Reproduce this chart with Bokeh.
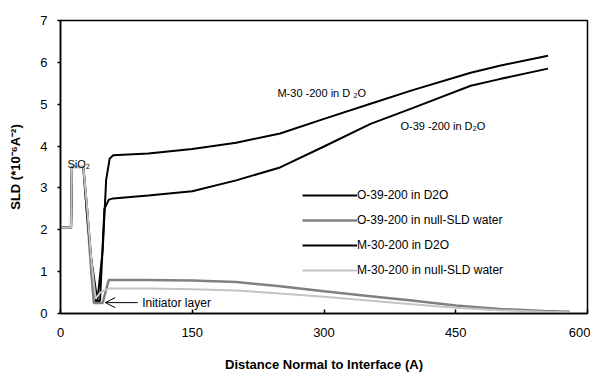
from bokeh.plotting import figure
from bokeh.models import Range1d, Legend, LegendItem, Label, Arrow, OpenHead, FixedTicker
from bokeh.embed import file_html
from bokeh.resources import INLINE

# ---- data ----
o39_d2o_x = [0, 12, 13, 26, 30, 35, 40, 45, 50, 55, 60, 100, 150, 200, 250, 300, 353, 400, 467, 500, 555]
o39_d2o_y = [2.05, 2.05, 3.5, 3.5, 2.6, 1.3, 0.3, 0.3, 2.5, 2.72, 2.75, 2.82, 2.92, 3.18, 3.49, 3.99, 4.53, 4.9, 5.44, 5.6, 5.85]

m30_d2o_x = [0, 12, 13, 26, 30, 35, 42, 48, 52, 56, 60, 100, 150, 200, 250, 300, 353, 400, 467, 500, 555]
m30_d2o_y = [2.05, 2.05, 3.5, 3.5, 2.4, 1.3, 0.3, 1.5, 3.2, 3.7, 3.78, 3.82, 3.93, 4.08, 4.3, 4.65, 5.01, 5.33, 5.75, 5.92, 6.16]

o39_null_x = [0, 12, 13, 26, 30, 35, 38, 48, 51, 55, 100, 150, 200, 250, 300, 350, 400, 450, 500, 550, 580]
o39_null_y = [2.05, 2.05, 3.5, 3.5, 2.5, 1.0, 0.25, 0.25, 0.5, 0.8, 0.8, 0.79, 0.75, 0.65, 0.53, 0.42, 0.31, 0.19, 0.11, 0.06, 0.04]

m30_null_x = [0, 12, 13, 26, 30, 35, 40, 45, 50, 55, 100, 150, 200, 250, 300, 350, 400, 450, 500, 550, 580]
m30_null_y = [2.05, 2.05, 3.5, 3.5, 2.6, 1.3, 0.35, 0.5, 0.55, 0.6, 0.6, 0.58, 0.55, 0.48, 0.4, 0.31, 0.22, 0.14, 0.08, 0.04, 0.03]

x_ticks = [0, 150, 300, 450, 600]
y_ticks = [0, 1, 2, 3, 4, 5, 6, 7]

FONT = "Liberation Sans"

p = figure(width=590, height=374, output_backend="svg", toolbar_location=None,
           x_range=Range1d(0, 600), y_range=Range1d(0, 7),
           min_border_left=60, min_border_right=3, min_border_top=20, min_border_bottom=61)
p.grid.visible = False
p.outline_line_color = "black"
p.outline_line_width = 1.5

# lines
r1 = p.line(o39_d2o_x, o39_d2o_y, line_color="black", line_width=2)
r2 = p.line(o39_null_x, o39_null_y, line_color="#808080", line_width=2.5)
r3 = p.line(m30_d2o_x, m30_d2o_y, line_color="black", line_width=2)
r4 = p.line(m30_null_x, m30_null_y, line_color="#c4c4c4", line_width=2)

# axes
p.xaxis.ticker = FixedTicker(ticks=x_ticks)
p.yaxis.ticker = FixedTicker(ticks=y_ticks)
for ax in (p.xaxis[0], p.yaxis[0]):
    ax.axis_line_color = "black"
    ax.axis_line_width = 1.5
    ax.major_tick_line_color = "black"
    ax.major_tick_line_width = 1.5
    ax.minor_tick_line_color = None
    ax.major_label_text_font = FONT
    ax.major_label_text_font_size = "13px"
    ax.major_label_text_color = "black"
    ax.axis_label_text_font = FONT
    ax.axis_label_text_font_size = "13px"
    ax.axis_label_text_font_style = "bold"
    ax.axis_label_text_color = "black"

p.xaxis.major_tick_in = 4
p.xaxis.major_tick_out = 0
p.xaxis.major_label_standoff = 14
p.xaxis.axis_label = "Distance Normal to Interface (A)"
p.xaxis.axis_label_standoff = 17

p.yaxis.major_tick_in = 0
p.yaxis.major_tick_out = 3
p.yaxis.major_label_standoff = 10
p.yaxis.axis_label = "SLD (*10⁻⁶A⁻²)"
p.yaxis.axis_label_standoff = 14

# legend
legend = Legend(items=[
    LegendItem(label="O-39-200 in D2O", renderers=[r1]),
    LegendItem(label="O-39-200 in null-SLD water", renderers=[r2]),
    LegendItem(label="M-30-200 in D2O", renderers=[r3]),
    LegendItem(label="M-30-200 in null-SLD water", renderers=[r4]),
], location=(242, 35), glyph_width=55, glyph_height=16, label_height=16,
   label_standoff=0, spacing=9, padding=0, margin=0,
   border_line_alpha=0, background_fill_alpha=0,
   label_text_font=FONT, label_text_font_size="12px", label_text_color="black")
p.add_layout(legend, "center")

# annotations
p.add_layout(Label(x=8, y=3.58, text="SiO₂", text_font=FONT, text_font_size="11px",
                   text_baseline="middle", text_color="black"))
p.add_layout(Label(x=247, y=5.27, text="M-30 -200 in D ₂O", text_font=FONT, text_font_size="11px",
                   text_baseline="middle", text_color="black"))
p.add_layout(Label(x=387, y=4.49, text="O-39 -200  in D₂O", text_font=FONT, text_font_size="11px",
                   text_baseline="middle", text_color="black"))
p.add_layout(Label(x=93, y=0.26, text="Initiator  layer", text_font=FONT, text_font_size="12px",
                   text_baseline="middle", text_color="black"))
p.add_layout(Arrow(end=OpenHead(size=10, line_width=1, line_color="black"),
                   x_start=88, y_start=0.26, x_end=51, y_end=0.26,
                   line_width=1, line_color="black"))

open("out.html", "w").write(file_html(p, INLINE))
